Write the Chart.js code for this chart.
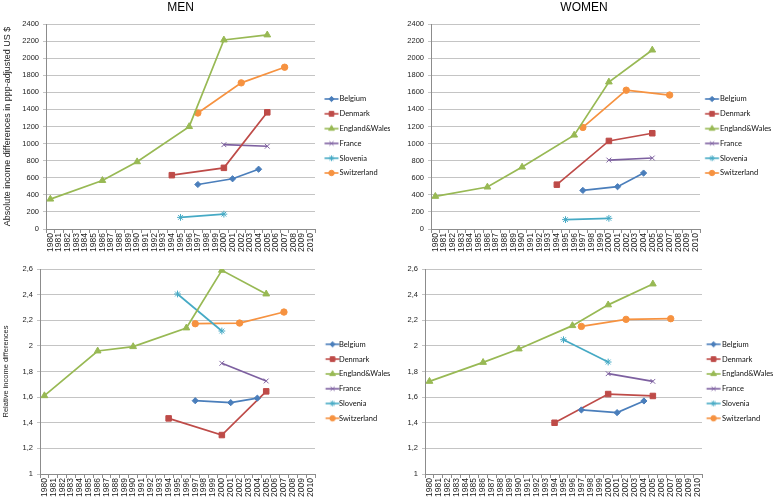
<!DOCTYPE html>
<html>
<head>
<meta charset="utf-8">
<script src="https://cdn.jsdelivr.net/npm/chart.js@4.4.1/dist/chart.umd.min.js"></script>
<style>
  html, body { margin: 0; padding: 0; background: #fff; }
  body { width: 778px; height: 499px; position: relative; overflow: hidden; }
  .panel { position: absolute; }
</style>
</head>
<body>
<div class="panel" id="p-tl"><canvas id="c-tl"></canvas></div>
<div class="panel" id="p-tr"><canvas id="c-tr"></canvas></div>
<div class="panel" id="p-bl"><canvas id="c-bl"></canvas></div>
<div class="panel" id="p-br"><canvas id="c-br"></canvas></div>
<script>
// Categorías del eje X
const years = ['1980','1981','1982','1983','1984','1985','1986','1987','1988','1989',
  '1990','1991','1992','1993','1994','1995','1996','1997','1998','1999',
  '2000','2001','2002','2003','2004','2005','2006','2007','2008','2009','2010'];

const countries = ['Belgium', 'Denmark', 'England&Wales', 'France', 'Slovenia', 'Switzerland'];

// Años observados por país
const belgiumYears = ['1997', '2001', '2004'];
const denmarkYears = ['1994', '2000', '2005'];
const englandYears = ['1980', '1986', '1990', '1996', '2000', '2005'];
const franceYears = ['2000', '2005'];
const sloveniaYears = ['1995', '2000'];
const switzerlandYears = ['1997', '2002', '2007'];
const countryYears = [belgiumYears, denmarkYears, englandYears, franceYears, sloveniaYears, switzerlandYears];

// Valores (mismo orden que countries)
const menAbsolute = [
  [521, 588, 700],
  [630, 716, 1366],
  [350, 568, 787, 1199, 2213, 2272],
  [987, 969],
  [136, 174],
  [1358, 1711, 1894]
];
const womenAbsolute = [
  [452, 495, 655],
  [519, 1031, 1121],
  [382, 491, 725, 1099, 1721, 2095],
  [807, 831],
  [110, 125],
  [1189, 1625, 1568]
];
const menRelative = [
  [1.572, 1.557, 1.592],
  [1.434, 1.304, 1.645],
  [1.611, 1.960, 1.994, 2.140, 2.590, 2.405],
  [1.864, 1.726],
  [2.405, 2.116],
  [2.173, 2.178, 2.264]
];
const womenRelative = [
  [1.500, 1.479, 1.570],
  [1.400, 1.624, 1.609],
  [1.723, 1.871, 1.976, 2.158, 2.320, 2.483],
  [1.783, 1.723],
  [2.048, 1.874],
  [2.152, 2.207, 2.212]
];

const absTicks = { min: 0, max: 2400, step: 200 };
const relTicks = { min: 1, max: 2.6, step: 0.2 };

// Estilos por serie
const colors = ['#4a7ebb', '#be4b48', '#98b954', '#7d60a0', '#46aac5', '#f69240'];
const markers = ['rectRot', 'rect', 'triangle', 'crossRot', 'star', 'circle'];
const markerSizes = [3.1, 3.9, 3.9, 3.4, 3.4, 3.2];

const legendFont = 7.5;
const legendPad = 7.3;

// Icono de leyenda: línea + marcador
function crearIcono(i, offset) {
  const c = document.createElement('canvas');
  c.width = 40; c.height = 10;
  const g = c.getContext('2d');
  g.strokeStyle = colors[i];
  g.fillStyle = colors[i];
  g.lineWidth = 1.6;
  g.beginPath();
  g.moveTo(offset, 5);
  g.lineTo(offset + 14, 5);
  g.stroke();
  g.lineWidth = 1;
  if (Chart.helpers && Chart.helpers.drawPoint) {
    Chart.helpers.drawPoint(g, { pointStyle: markers[i], radius: markerSizes[i] * 0.85, rotation: 0, borderWidth: 1 }, offset + 7, 5);
  }
  return c;
}

const panels = [
  { id: 'tl', left: 0, top: 0, w: 390, h: 256, title: 'MEN', titleFull: false, values: menAbsolute, ticks: absTicks,
    yTitle: 'Absolute income differences in ppp-adjusted US $', yTitleSize: 9, yWidth: 46, xHeight: 27, padTop: 0,
    plotRight: 315, lineStart: 324.5, textStart: 339.5, firstRow: 99 },
  { id: 'tr', left: 390, top: 0, w: 388, h: 256, title: 'WOMEN', titleFull: true, values: womenAbsolute, ticks: absTicks,
    yTitle: '', yTitleSize: 9, yWidth: 41, xHeight: 27, padTop: 0,
    plotRight: 310, lineStart: 315, textStart: 330, firstRow: 99 },
  { id: 'bl', left: 0, top: 250, w: 390, h: 249, title: '', titleFull: false, values: menRelative, ticks: relTicks,
    yTitle: 'Relative income differences', yTitleSize: 7.5, yWidth: 40, xHeight: 25, padTop: 19,
    plotRight: 315, lineStart: 325.5, textStart: 339, firstRow: 94.3 },
  { id: 'br', left: 390, top: 250, w: 388, h: 249, title: '', titleFull: false, values: womenRelative, ticks: relTicks,
    yTitle: '', yTitleSize: 7.5, yWidth: 35, xHeight: 25, padTop: 19,
    plotRight: 312, lineStart: 316.5, textStart: 332, firstRow: 94.3 }
];

const fmtRel = v => String(Math.round(v * 10) / 10).replace('.', ',');

panels.forEach(p => {
  const div = document.getElementById('p-' + p.id);
  div.style.left = p.left + 'px';
  div.style.top = p.top + 'px';
  div.style.width = p.w + 'px';
  div.style.height = p.h + 'px';

  // Geometría de la leyenda
  const itemX = p.plotRight + legendPad;
  const boxW = p.textStart - itemX - legendFont / 2;
  const iconOffset = p.lineStart - (itemX + boxW / 2 - 20);
  const icons = countries.map((_, i) => crearIcono(i, iconOffset));
  const legendTitleH = (p.firstRow - legendFont / 2) - p.padTop - legendPad;

  const datasets = countries.map((name, i) => ({
    label: name,
    data: countryYears[i].map((yr, j) => ({ x: yr, y: p.values[i][j] })),
    borderColor: colors[i],
    backgroundColor: colors[i],
    borderWidth: 1.7,
    pointStyle: markers[i],
    pointRadius: markerSizes[i],
    pointBorderWidth: 1,
    pointBorderColor: colors[i],
    pointBackgroundColor: colors[i],
    tension: 0,
    fill: false
  }));

  new Chart(document.getElementById('c-' + p.id), {
    type: 'line',
    data: { datasets },
    options: {
      responsive: true,
      maintainAspectRatio: false,
      animation: false,
      layout: { padding: { top: p.padTop, left: 0, right: 0, bottom: 0 } },
      scales: {
        x: {
          type: 'category',
          labels: years,
          offset: true,
          grid: { display: true, drawOnChartArea: false, drawTicks: true, tickLength: 4, offset: true, color: '#8c8c8c' },
          border: { display: true, color: '#8c8c8c' },
          ticks: { autoSkip: false, minRotation: 90, maxRotation: 90, padding: 0, color: '#222',
            font: { family: 'Liberation Sans', size: 8.5 } },
          afterFit: s => { s.height = p.xHeight; }
        },
        y: {
          min: p.ticks.min,
          max: p.ticks.max,
          grid: { color: '#c4c4c4', tickLength: 3, drawTicks: true },
          border: { display: true, color: '#8c8c8c' },
          ticks: {
            stepSize: p.ticks.step,
            padding: 4,
            color: '#222',
            font: { family: 'Liberation Sans', size: 7.5 },
            callback: v => p.ticks === relTicks ? fmtRel(v) : String(v)
          },
          title: {
            display: p.yTitle !== '',
            text: p.yTitle,
            color: '#222',
            font: { family: 'Liberation Sans', size: p.yTitleSize },
            padding: { top: p.yTitleSize > 8 ? 2 : 1, bottom: 0 }
          },
          afterFit: s => { s.width = p.yWidth; }
        }
      },
      plugins: {
        title: {
          display: p.title !== '',
          text: p.title,
          fullSize: p.titleFull,
          color: '#000',
          font: { family: 'Liberation Sans', size: 12, weight: 'normal' },
          padding: { top: 0, bottom: 9.6 }
        },
        legend: {
          position: 'right',
          align: 'start',
          maxWidth: p.w - p.plotRight,
          title: { display: true, text: ' ', font: { size: 1 }, padding: { top: legendTitleH - 1.2, bottom: 0 } },
          labels: {
            usePointStyle: true,
            pointStyleWidth: boxW,
            padding: legendPad,
            color: '#111',
            font: { family: 'Lato', size: legendFont },
            generateLabels: chart => Chart.defaults.plugins.legend.labels.generateLabels(chart)
              .map((item, i) => Object.assign(item, { pointStyle: icons[i] }))
          }
        },
        tooltip: { enabled: false }
      }
    }
  });
});
</script>
</body>
</html>
